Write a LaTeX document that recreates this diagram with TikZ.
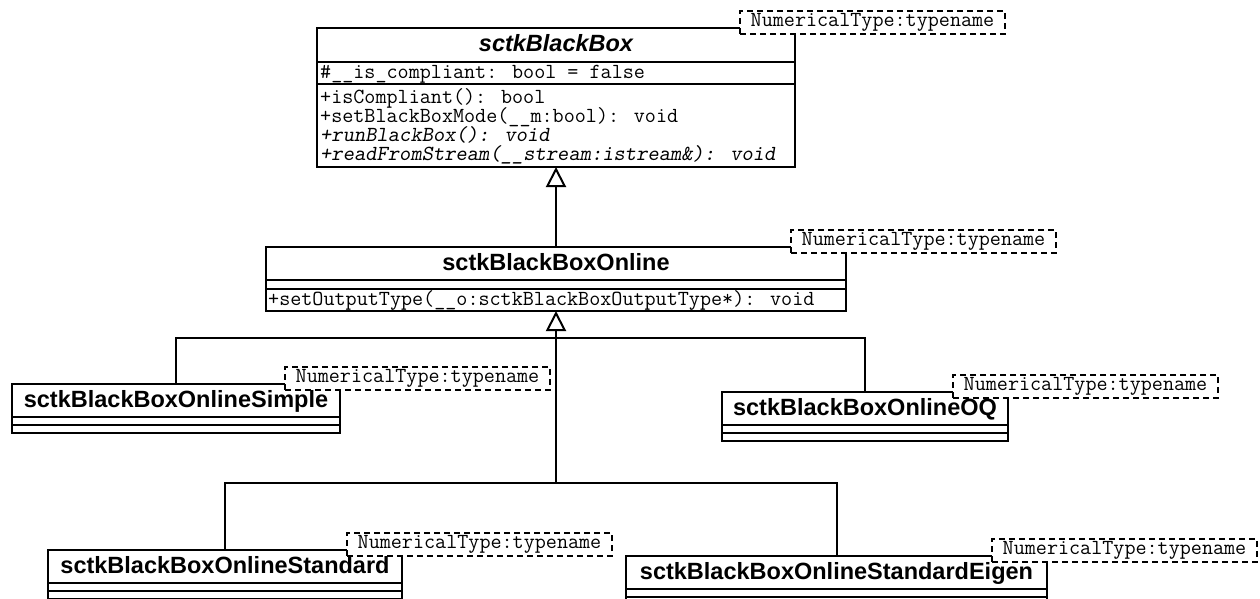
\documentclass[tikz,border=0pt]{standalone}
\usepackage{fontspec}
\setsansfont{Liberation Sans}
\usetikzlibrary{arrows.meta}
\begin{document}
\begin{tikzpicture}[x=1pt,y=-1pt,
  cls/.style={draw=black, line width=2pt, fill=white, inner sep=0pt, outer sep=0pt, anchor=north west},
  tmpl/.style={draw=black, dash pattern=on 6pt off 4pt, line width=2pt, fill=white, anchor=north west,
    minimum width=265pt, minimum height=23pt, inner sep=0pt, outer sep=0pt,
    font=\ttfamily\fontsize{21.5}{21.5}\selectfont},
  ttl/.style={font=\sffamily\bfseries\fontsize{23.5}{23.5}\selectfont, anchor=base, inner sep=0pt},
  code/.style={font=\ttfamily\fontsize{21.5}{21.5}\selectfont, anchor=base west, inner sep=0pt},
  icode/.style={code, font=\ttfamily\slshape\fontsize{21.5}{21.5}\selectfont},
  ln/.style={line width=2pt},
  gen/.style={line width=2pt, -{Triangle[open, length=20pt, width=20pt]}}]
\useasboundingbox (0,0) rectangle (1260,598);
\clip (0,0) rectangle (1260,598);

% sctkBlackBox
\node[cls, minimum width=478pt, minimum height=139pt] (bb) at (317,28) {};
\draw[ln] (317,62) -- (795,62);
\draw[ln] (317,84) -- (795,84);
\node[ttl, font=\sffamily\bfseries\itshape\fontsize{23.5}{23.5}\selectfont] (bbt) at (556,51) {sctkBlackBox};
\node[code] (bba) at (320,78) {\#\_\_is\_compliant: bool = false};
\node[code] (bbm1) at (320,103) {+isCompliant(): bool};
\node[code] (bbm2) at (320,122) {+setBlackBoxMode(\_\_m:bool): void};
\node[icode] (bbm3) at (320,141) {+runBlackBox(): void};
\node[icode] (bbm4) at (320,160) {+readFromStream(\_\_stream:istream\&): void};
\node[tmpl] (bbp) at (740,11) {NumericalType:typename};

% sctkBlackBoxOnline
\node[cls, minimum width=580pt, minimum height=64pt] (onl) at (266,247) {};
\draw[ln] (266,280) -- (846,280);
\draw[ln] (266,289) -- (846,289);
\node[ttl] (onlt) at (556,270) {sctkBlackBoxOnline};
\node[code] (onlm) at (268,305) {+setOutputType(\_\_o:sctkBlackBoxOutputType*): void};
\node[tmpl] (onlp) at (791,230) {NumericalType:typename};

% sctkBlackBoxOnlineSimple
\node[cls, minimum width=328pt, minimum height=49pt] (sim) at (12,384) {};
\draw[ln] (12,417) -- (340,417);
\draw[ln] (12,425) -- (340,425);
\node[ttl] (simt) at (176,407) {sctkBlackBoxOnlineSimple};
\node[tmpl] (simp) at (285,367) {NumericalType:typename};

% sctkBlackBoxOnlineOQ
\node[cls, minimum width=286pt, minimum height=49pt] (oq) at (722,392) {};
\draw[ln] (722,425) -- (1008,425);
\draw[ln] (722,433) -- (1008,433);
\node[ttl] (oqt) at (865,415) {sctkBlackBoxOnlineOQ};
\node[tmpl] (oqp) at (953,375) {NumericalType:typename};

% sctkBlackBoxOnlineStandard
\node[cls, minimum width=354pt, minimum height=49pt] (std) at (48,550) {};
\draw[ln] (48,583) -- (402,583);
\draw[ln] (48,591) -- (402,591);
\node[ttl] (stdt) at (225,573) {sctkBlackBoxOnlineStandard};
\node[tmpl] (stdp) at (347,533) {NumericalType:typename};

% sctkBlackBoxOnlineStandardEigen
\node[cls, minimum width=421pt, minimum height=49pt] (eig) at (626,556) {};
\draw[ln] (626,589) -- (1047,589);
\draw[ln] (626,597) -- (1047,597);
\node[ttl] (eigt) at (836.5,579) {sctkBlackBoxOnlineStandardEigen};
\node[tmpl] (eigp) at (992,539) {NumericalType:typename};

% connectors
\coordinate (j1) at (556,338);
\coordinate (j2) at (556,483);
\draw[gen] (onl.north) -- (bb.south);
\draw[ln] (sim.north) |- (j1);
\draw[ln] (oq.north) |- (j1);
\draw[ln] (std.north) |- (j2);
\draw[ln] (eig.north) |- (j2);
\draw[gen] (j2) -- (onl.south);
\end{tikzpicture}
\end{document}
